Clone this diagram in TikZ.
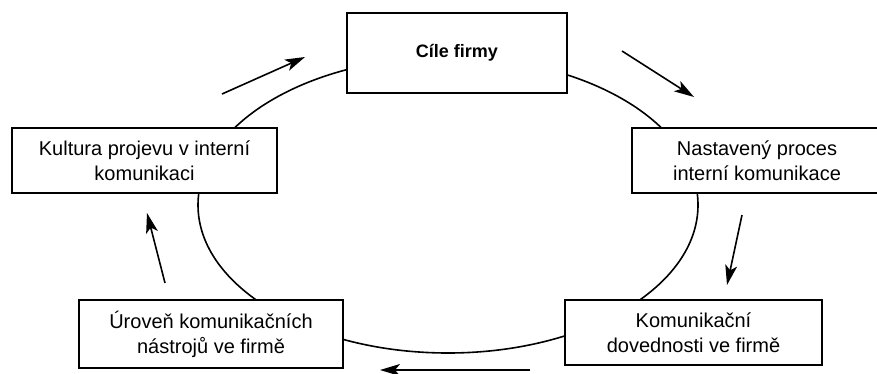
\documentclass[tikz,border=0pt]{standalone}
\usepackage{fontspec}
\setmainfont{Liberation Sans}
\usetikzlibrary{positioning,arrows.meta}

\begin{document}
\begin{tikzpicture}[x=0.5pt, y=-0.5pt,
	box/.style={draw, line width=0.9pt, fill=white, align=center, inner sep=2pt, font=\fontsize{10}{12.5}\selectfont},
	flow/.style={-{Stealth[length=10pt, width=6pt, inset=2.5pt]}, line width=0.8pt}]
	\useasboundingbox (0,0) rectangle (877,374);
	\clip (0,0) rectangle (877,374);
	\draw[line width=0.8pt] (448,205) ellipse [x radius=125pt, y radius=74pt];
	\node[box, minimum width=110pt, minimum height=40pt, font=\fontsize{9}{11}\selectfont\bfseries] (C) at (457,53) {Cíle firmy};
	\node[box, minimum width=132.5pt, minimum height=32.5pt] (K) at (144.5,160.5) {Kultura projevu v interní\\komunikaci};
	\node[box, minimum width=125pt, minimum height=32.5pt] (N) at (757,160.5) {Nastavený proces\\interní komunikace};
	\node[box, minimum width=132pt, minimum height=34pt] (U) at (211,334) {Úroveň komunikačních\\nástrojů ve firmě};
	\node[box, minimum width=128.5pt, minimum height=32.5pt] (D) at (693.5,332.5) {Komunikační\\dovednosti ve firmě};
	% arrow ends
	\coordinate (KC1) at (222,94);  \coordinate (KC2) at (305,57);
	\coordinate (CN1) at (622,51);  \coordinate (CN2) at (694,97);
	\coordinate (ND1) at (742,215); \coordinate (ND2) at (727,285);
	\coordinate (DU1) at (530,370); \coordinate (DU2) at (380,370);
	\coordinate (UK1) at (165,283); \coordinate (UK2) at (147,213);
	\draw[flow] (KC1) -- (KC2);
	\draw[flow] (CN1) -- (CN2);
	\draw[flow] (ND1) -- (ND2);
	\draw[flow] (DU1) -- (DU2);
	\draw[flow] (UK1) -- (UK2);
\end{tikzpicture}
\end{document}
